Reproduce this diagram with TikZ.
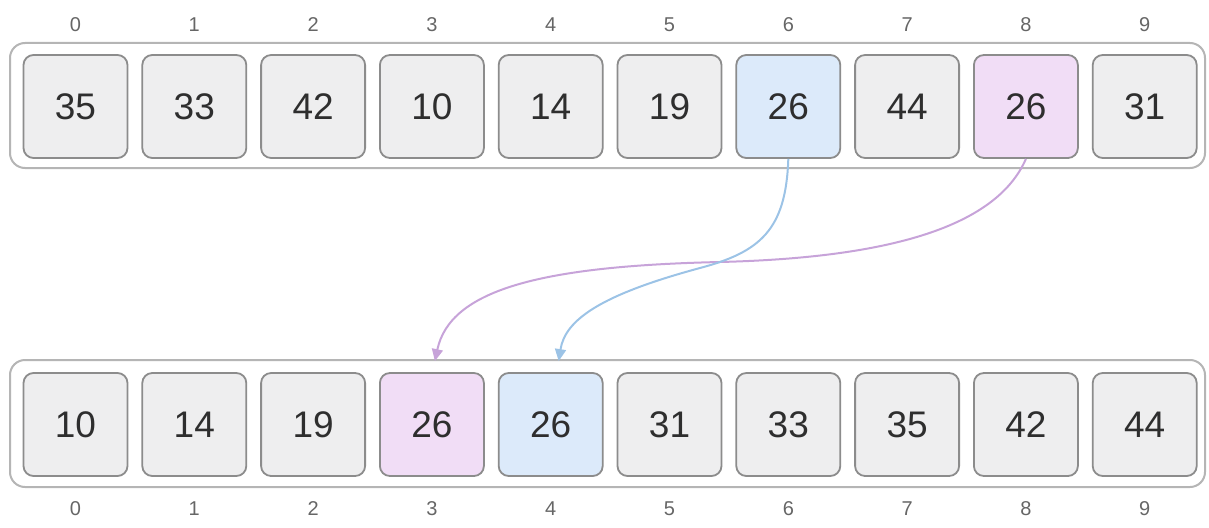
\documentclass[tikz,border=0pt]{standalone}
\usepackage{fontspec}
\setmainfont{Liberation Sans}
\usetikzlibrary{arrows.meta}
\definecolor{boxfill}{HTML}{EEEEEF}
\definecolor{boxline}{HTML}{8C8C8C}
\definecolor{contline}{HTML}{B5B5B5}
\definecolor{bluefill}{HTML}{DCEAFA}
\definecolor{purpfill}{HTML}{F1DDF6}
\definecolor{bluearrow}{HTML}{9CC3E6}
\definecolor{purparrow}{HTML}{C7A3D9}
\definecolor{numtext}{HTML}{2E2E2E}
\definecolor{idxtext}{HTML}{666666}
\tikzset{
  cell/.style={draw=boxline, line width=1.8pt, fill=boxfill, rounded corners=10pt,
    minimum width=104pt, minimum height=103pt, inner sep=0pt,
    font=\fontsize{37}{40}\selectfont, text=numtext},
  bluecell/.style={cell, fill=bluefill},
  purpcell/.style={cell, fill=purpfill},
  container/.style={draw=contline, line width=2pt, fill=white, rounded corners=15pt,
    minimum width=1195pt, inner sep=0pt},
  idx/.style={font=\fontsize{20}{24}\selectfont, text=idxtext, inner sep=0pt},
  movearrow/.style={line width=2pt, -{Triangle[length=12pt,width=11pt]}},
}
\begin{document}
\begin{tikzpicture}[x=1pt,y=-1pt]
\useasboundingbox (0,0) rectangle (1209,527);
% containers
\node[container, minimum height=125pt] (topc) at (607.5,105.5) {};
\node[container, minimum height=127pt] (botc) at (607.5,423.5) {};
% top row
\foreach \v [count=\i from 0] in {35,33,42,10,14,19,26,44,26,31} {
  \ifnum\i=6
    \node[bluecell] (t\i) at (75.5+118.8*\i,106.5) {\v};
  \else\ifnum\i=8
    \node[purpcell] (t\i) at (75.5+118.8*\i,106.5) {\v};
  \else
    \node[cell] (t\i) at (75.5+118.8*\i,106.5) {\v};
  \fi\fi
  \node[idx] (lt\i) at (75.5+118.8*\i,25) {\i};
}
% bottom row
\foreach \v [count=\i from 0] in {10,14,19,26,26,31,33,35,42,44} {
  \ifnum\i=3
    \node[purpcell] (b\i) at (75.5+118.8*\i,424.5) {\v};
  \else\ifnum\i=4
    \node[bluecell] (b\i) at (75.5+118.8*\i,424.5) {\v};
  \else
    \node[cell] (b\i) at (75.5+118.8*\i,424.5) {\v};
  \fi\fi
  \node[idx] (lb\i) at (75.5+118.8*\i,509) {\i};
}
% arrows
\draw[movearrow, draw=purparrow] (t8.south)
  .. controls (995,230) and (880,258) .. (720,262)
  .. controls (540,266) and (450,290) .. ([xshift=3pt,yshift=11pt]b3.north);
\draw[movearrow, draw=bluearrow] (t6.south)
  .. controls (786,230) and (760,252) .. (700,268)
  .. controls (600,295) and (565,320) .. ([xshift=8pt,yshift=11pt]b4.north);
\end{tikzpicture}
\end{document}
